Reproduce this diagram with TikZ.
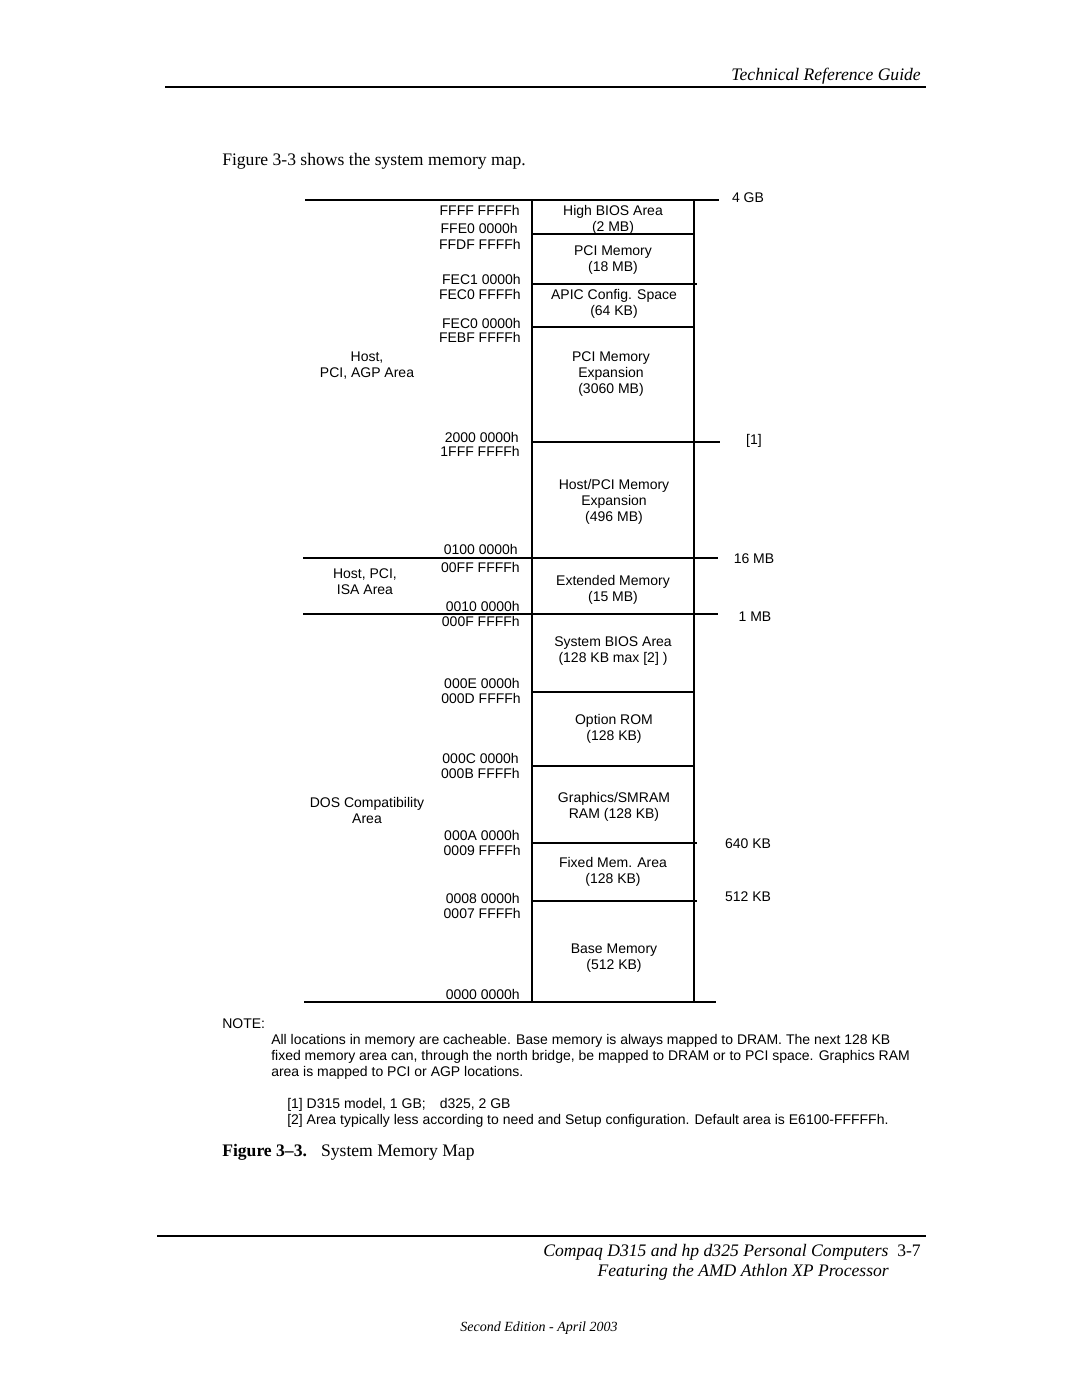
\documentclass[tikz,border=0pt]{standalone}
\usepackage{fontspec}
\setmainfont{Liberation Serif}
\setsansfont{Liberation Sans}

\newcommand{\mapfont}{\sffamily\fontsize{10.5}{12}\selectfont}
\newcommand{\pagefont}{\rmfamily\fontsize{13.2}{15}\selectfont}

\tikzset{
  addr/.style={anchor=east, inner sep=0pt, yshift=-0.8pt, font=\mapfont},
  region/.style={align=center, inner sep=0pt, yshift=-0.8pt, font=\mapfont},
  sizelbl/.style={inner sep=0pt, yshift=-0.8pt, font=\mapfont},
  noteline/.style={anchor=west, inner sep=0pt, yshift=-0.8pt, font=\mapfont},
  pagetxt/.style={inner sep=0pt, yshift=-1.5pt, font=\pagefont},
  divider/.style={line width=0.8pt},
  bound/.style={line width=1.5pt},
  rule/.style={line width=2pt}
}

\begin{document}
\begin{tikzpicture}[x=0.75pt, y=-0.75pt]
    \useasboundingbox (0,0) rectangle (1080,1397);

    % Page Header
    \draw[rule] (165,87) -- (926,87);
    \node[pagetxt, anchor=east, font=\pagefont\itshape] (hdr) at (921,74) {Technical Reference Guide};
    \node[pagetxt, anchor=west] (intro) at (222,159) {Figure 3-3 shows the system memory map.};

    % Draw Basic Box
    \draw[bound] (532,200) -- (532,1002);
    \draw[bound] (694,200) -- (694,1002);

    % Draw Boundary Lines
    \draw[bound] (305,200) -- (719,200);
    \draw[bound] (303,558) -- (718,558);
    \draw[bound] (303,614) -- (718,614);
    \draw[bound] (304,1002) -- (716,1002);
    \draw[divider] (532,442) -- (720,442);

    % Draw Box Dividers
    \draw[divider] (532,234) -- (695,234);
    \draw[divider] (532,284) -- (697,284);
    \draw[divider] (532,327) -- (695,327);
    \draw[divider] (532,692) -- (695,692);
    \draw[divider] (532,766) -- (695,766);
    \draw[divider] (532,843) -- (697,843);
    \draw[divider] (532,901) -- (697,901);

    % Address Labels
    \node[addr] (a1)  at (520,209) {FFFF FFFFh};
    \node[addr] (a2)  at (518,227) {FFE0 0000h};
    \node[addr] (a3)  at (521,243) {FFDF FFFFh};
    \node[addr] (a4)  at (521,278) {FEC1 0000h};
    \node[addr] (a5)  at (521,293) {FEC0 FFFFh};
    \node[addr] (a6)  at (521,322) {FEC0 0000h};
    \node[addr] (a7)  at (521,336) {FEBF FFFFh};
    \node[addr] (a8)  at (519,436) {2000 0000h};
    \node[addr] (a9)  at (520,450) {1FFF FFFFh};
    \node[addr] (a10) at (518,548) {0100 0000h};
    \node[addr] (a11) at (520,566) {00FF FFFFh};
    \node[addr] (a12) at (520,605) {0010 0000h};
    \node[addr] (a13) at (520,620) {000F FFFFh};
    \node[addr] (a14) at (520,682) {000E 0000h};
    \node[addr] (a15) at (521,697) {000D FFFFh};
    \node[addr] (a16) at (519,757) {000C 0000h};
    \node[addr] (a17) at (520,772) {000B FFFFh};
    \node[addr] (a18) at (520,834) {000A 0000h};
    \node[addr] (a19) at (521,849) {0009 FFFFh};
    \node[addr] (a20) at (520,897) {0008 0000h};
    \node[addr] (a21) at (521,912) {0007 FFFFh};
    \node[addr] (a22) at (520,993) {0000 0000h};

    % -- left side regions
    \node[region] (hostagp) at (367,364.5) {Host,\\PCI, AGP Area};
    \node[region] (hostisa) at (365,580.5) {Host, PCI,\\ISA Area};
    \node[region] (dos)     at (367,809.5) {DOS Compatibility\\Area};

    % Category Values
    \node[region] (hibios) at (613,218.5) {High BIOS Area\\(2 MB)};
    \node[region] (pci18)  at (613,259) {PCI Memory\\(18 MB)};
    \node[region] (apic)   at (614,303) {APIC Config. Space\\(64 KB)};
    \node[region] (pciexp) at (611,373) {PCI Memory\\Expansion\\(3060 MB)};
    \node[region] (hostexp) at (614,501) {Host/PCI Memory\\Expansion\\(496 MB)};
    \node[region] (ext)    at (613,588.5) {Extended Memory\\(15 MB)};
    \node[region] (sysbios) at (613,650) {System BIOS Area\\(128 KB max [2] )};
    \node[region] (optrom) at (614,728) {Option ROM\\(128 KB)};
    \node[region] (gfx)    at (614,806) {Graphics/SMRAM\\RAM (128 KB)};
    \node[region] (fixed)  at (613,871) {Fixed Mem. Area\\(128 KB)};
    \node[region] (base)   at (614,957) {Base Memory\\(512 KB)};

    % -- right side sizes
    \node[sizelbl] (s4g)   at (748,197) {4 GB};
    \node[sizelbl] (sref)  at (754,440) {[1]};
    \node[sizelbl] (s16m)  at (754,558) {16 MB};
    \node[sizelbl] (s1m)   at (755,616) {1 MB};
    \node[sizelbl] (s640k) at (748,843) {640 KB};
    \node[sizelbl] (s512k) at (748,896) {512 KB};

    % Notes
    \node[noteline] (note) at (222,1023) {NOTE:};
    \node[noteline] (n1) at (271,1040) {All locations in memory are cacheable. Base memory is always mapped to DRAM. The next 128 KB};
    \node[noteline] (n2) at (271,1056) {fixed memory area can, through the north bridge, be mapped to DRAM or to PCI space. Graphics RAM};
    \node[noteline] (n3) at (271,1072) {area is mapped to PCI or AGP locations.};
    \node[noteline] (f1) at (287,1104) {[1] D315 model, 1 GB;\quad d325, 2 GB};
    \node[noteline] (f2) at (287,1120) {[2] Area typically less according to need and Setup configuration. Default area is E6100-FFFFFh.};

    % Caption
    \node[pagetxt, anchor=west] (cap) at (222,1150) {\textbf{Figure 3--3.}\hspace{0.8em}System Memory Map};

    % Page Footer
    \draw[rule] (157,1236) -- (926,1236);
    \node[pagetxt, anchor=east] (ftr1) at (921,1250) {\itshape Compaq D315 and hp d325 Personal Computers\upshape\ \ 3-7};
    \node[pagetxt, anchor=east, font=\pagefont\itshape] (ftr2) at (889,1270) {Featuring the AMD Athlon XP Processor};
    \node[pagetxt, font=\rmfamily\itshape\fontsize{10.5}{12}\selectfont] (ed) at (539,1326) {Second Edition - April 2003};
\end{tikzpicture}
\end{document}
